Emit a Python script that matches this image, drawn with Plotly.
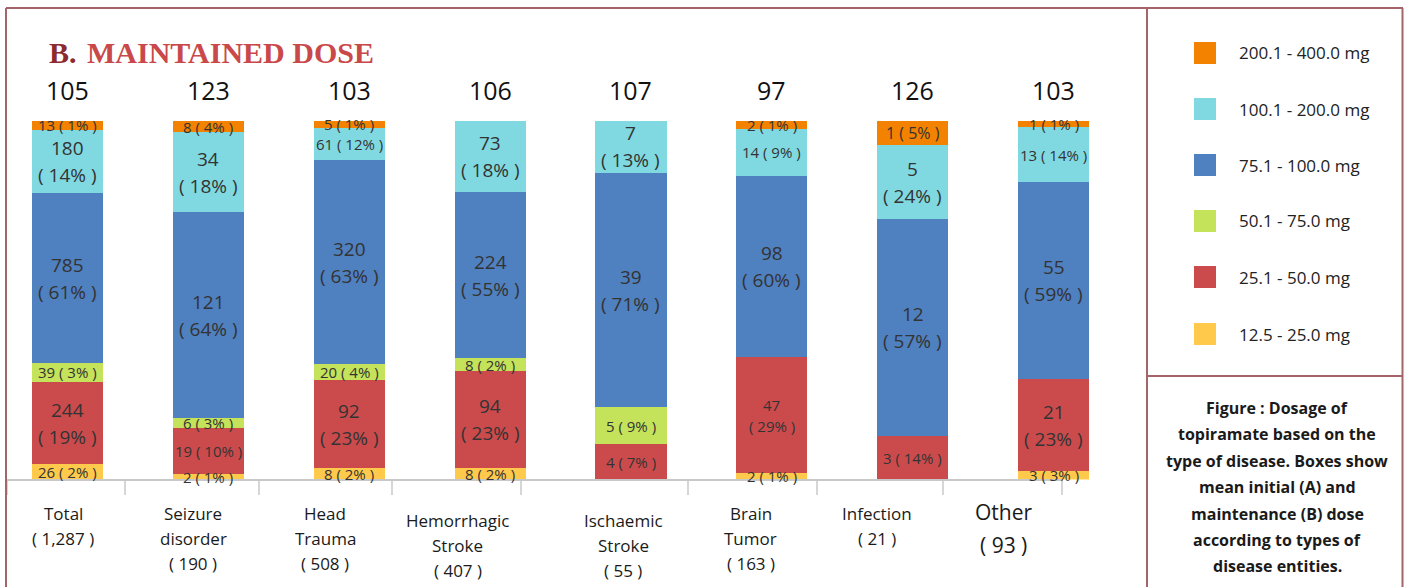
import plotly.graph_objects as go

# ---------------- data ----------------
categories = ["Total", "Seizure disorder", "Head Trauma", "Hemorrhagic Stroke",
              "Ischaemic Stroke", "Brain Tumor", "Infection", "Other"]
patients = [1287, 190, 508, 407, 55, 163, 21, 93]
mean_dose = [105, 123, 103, 106, 107, 97, 126, 103]

dose_groups = ["12.5 - 25.0 mg", "25.1 - 50.0 mg", "50.1 - 75.0 mg",
               "75.1 - 100.0 mg", "100.1 - 200.0 mg", "200.1 - 400.0 mg"]

# patient counts per dose group (stack order: bottom -> top)
count_12_25 = [26, 2, 8, 8, None, 2, None, 3]
count_25_50 = [244, 19, 92, 94, 4, 47, 3, 21]
count_50_75 = [39, 6, 20, 8, 5, None, None, None]
count_75_100 = [785, 121, 320, 224, 39, 98, 12, 55]
count_100_200 = [180, 34, 61, 73, 7, 14, 5, 13]
count_200_400 = [13, 8, 5, None, None, 2, 1, 1]

# printed percentages
pct_12_25 = [2, 1, 2, 2, None, 1, None, 3]
pct_25_50 = [19, 10, 23, 23, 7, 29, 14, 23]
pct_50_75 = [3, 3, 4, 2, 9, None, None, None]
pct_75_100 = [61, 64, 63, 55, 71, 60, 57, 59]
pct_100_200 = [14, 18, 12, 18, 13, 9, 24, 14]
pct_200_400 = [1, 4, 1, None, None, 1, 5, 1]

# drawn height of each segment (% of the bar)
share_12_25 = [4.2, 1.4, 3.2, 3.2, None, 1.7, None, 2.5]
share_25_50 = [23.0, 13.1, 24.5, 27.0, 9.8, 32.4, 12.1, 25.4]
share_50_75 = [5.3, 2.6, 4.5, 3.6, 10.3, None, None, None]
share_75_100 = [47.4, 57.5, 56.9, 46.4, 65.4, 50.6, 60.5, 55.0]
share_100_200 = [17.6, 22.3, 9.0, 19.8, 14.5, 13.1, 20.7, 15.4]
share_200_400 = [2.5, 3.1, 1.9, None, None, 2.2, 6.7, 1.7]

# ---------------- styles ----------------
colors = ["#ffc94c", "#cb4b4d", "#c4e25a", "#4f80bf", "#80d9e1", "#f38200"]
# label style per segment: L = large two-line, M = small two-line, S = small one-line
style_12_25 = ["S", "S", "S", "S", None, "S", None, "S"]
style_25_50 = ["L", "S", "L", "L", "S", "M", "S", "L"]
style_50_75 = ["S", "S", "S", "S", "S", None, None, None]
style_75_100 = ["L"] * 8
style_100_200 = ["L", "L", "S", "L", "L", "S", "L", "S"]
style_200_400 = ["S", "S", "S", None, None, "S", "T", "S"]

counts = [count_12_25, count_25_50, count_50_75, count_75_100, count_100_200, count_200_400]
pcts = [pct_12_25, pct_25_50, pct_50_75, pct_75_100, pct_100_200, pct_200_400]
shares = [share_12_25, share_25_50, share_50_75, share_75_100, share_100_200, share_200_400]
styles = [style_12_25, style_25_50, style_50_75, style_75_100, style_100_200, style_200_400]

W, H = 1408, 587
FONT = "Open Sans"
TXT = "#333333"
BORDER = "#a4646a"
AXIS_GRAY = "#c8c8c8"


def px(x):
    return x / W


def py(y):
    return 1 - y / H


fig = go.Figure()
for g in range(len(dose_groups)):
    fig.add_trace(go.Bar(
        x=categories, y=shares[g], name=dose_groups[g],
        marker=dict(color=colors[g], line=dict(width=0)),
        width=0.505, showlegend=False,
        customdata=[[c, p] for c, p in zip(counts[g], pcts[g])],
        hovertemplate="%{x}<br>" + dose_groups[g] + ": %{customdata[0]} (%{customdata[1]}%)<extra></extra>",
    ))

annotations = []
shapes = []

# segment labels
for i, cat in enumerate(categories):
    base = 0
    for g in range(len(dose_groups)):
        s = shares[g][i]
        if not s:
            continue
        mid = base + s / 2
        base += s
        c, p, st = counts[g][i], pcts[g][i], styles[g][i]
        if st == "L":
            for txt, sh in ((str(c), 13.5), (f"( {p}% )", -13.5)):
                annotations.append(dict(x=cat, y=mid, xref="x", yref="y", text=txt,
                                        showarrow=False, yshift=sh,
                                        font=dict(family=FONT, size=19, color=TXT)))
        elif st == "M":
            for txt, sh in ((str(c), 10.5), (f"( {p}% )", -10.5)):
                annotations.append(dict(x=cat, y=mid, xref="x", yref="y", text=txt,
                                        showarrow=False, yshift=sh,
                                        font=dict(family=FONT, size=15, color=TXT)))
        else:
            annotations.append(dict(x=cat, y=mid, xref="x", yref="y",
                                    text=f"{c} ( {p}% )", showarrow=False,
                                    font=dict(family=FONT, size=16 if st == "T" else 15, color=TXT)))
    # mean dose above bar
    annotations.append(dict(x=cat, y=100, xref="x", yref="y", text=str(mean_dose[i]),
                            showarrow=False, yshift=31, yanchor="middle",
                            font=dict(family=FONT, size=25, color="#111111")))

# category label row (table-like cells)
label_centers = [63, 193, 325, 458, 623, 751, 877, 1004]
label_top = [513, 513, 513, 520, 520, 513, 513, 512]
for i, cat in enumerate(categories):
    lines = cat.split(" ") + [f"( {patients[i]:,} )"]
    big = cat == "Other"
    size = 21 if big else 17
    step = 33 if big else 25
    for k, ln in enumerate(lines):
        annotations.append(dict(x=px(label_centers[i]), y=py(label_top[i] + k * step),
                                xref="paper", yref="paper", text=ln, showarrow=False,
                                xanchor="center", yanchor="middle",
                                font=dict(family=FONT, size=size, color="#1a1a1a")))

# baseline and cell dividers under the bars
shapes.append(dict(type="line", xref="paper", yref="paper", x0=px(7), x1=px(1062),
                   y0=py(480), y1=py(480), line=dict(color=AXIS_GRAY, width=2)))
for d in [7, 125, 259, 392, 521, 688, 817, 943, 1062]:
    shapes.append(dict(type="line", xref="paper", yref="paper", x0=px(d), x1=px(d),
                       y0=py(480), y1=py(495), line=dict(color=AXIS_GRAY, width=1.5)))

# title
annotations.append(dict(x=px(47), y=py(53), xref="paper", yref="paper", text="<b>B.</b>",
                        showarrow=False, xanchor="left", yanchor="middle",
                        font=dict(family="Liberation Serif", size=30, color="#8c2a2e")))
annotations.append(dict(x=px(85), y=py(53), xref="paper", yref="paper",
                        text="<b>MAINTAINED DOSE</b>", showarrow=False,
                        xanchor="left", yanchor="middle",
                        font=dict(family="Liberation Serif", size=30, color="#c9484a")))

# legend panel (top -> bottom: highest dose first)
legend_rows = [53, 109, 165, 221, 277, 334]
for r, g in enumerate(reversed(range(len(dose_groups)))):
    yc = legend_rows[r]
    shapes.append(dict(type="rect", xref="paper", yref="paper",
                       x0=px(1194), x1=px(1216), y0=py(yc - 11), y1=py(yc + 11),
                       fillcolor=colors[g], line=dict(width=0)))
    annotations.append(dict(x=px(1237), y=py(yc), xref="paper", yref="paper",
                            text=dose_groups[g], showarrow=False, xanchor="left",
                            yanchor="middle", font=dict(family=FONT, size=17, color="#222222")))

# caption
caption_lines = ["Figure : Dosage of", "topiramate based on the",
                 "type of disease. Boxes show", "mean initial (A) and",
                 "maintenance (B) dose", "according to types of", "disease entities."]
for k, ln in enumerate(caption_lines):
    annotations.append(dict(x=px(1277), y=py(408 + k * 26.4), xref="paper", yref="paper",
                            text=f"<b>{ln}</b>", showarrow=False, xanchor="center",
                            yanchor="middle", font=dict(family=FONT, size=16, color="#1a1a1a")))

# frame lines
for x0, y0, x1, y1 in [(6, 8, 6, 587), (6, 8, 1403, 8), (1147, 8, 1147, 587),
                       (1402.5, 8, 1402.5, 587), (1147, 376, 1403, 376)]:
    shapes.append(dict(type="line", xref="paper", yref="paper", x0=px(x0), x1=px(x1),
                       y0=py(y0), y1=py(y1), line=dict(color=BORDER, width=2)))

fig.update_layout(
    width=W, height=H, margin=dict(l=0, r=0, t=0, b=0),
    paper_bgcolor="white", plot_bgcolor="white",
    barmode="stack",
    xaxis=dict(domain=[px(7), px(1117)], range=[-0.429, 7.45], showticklabels=False,
               showgrid=False, zeroline=False, showline=False, ticks=""),
    yaxis=dict(domain=[py(479.5), py(121)], range=[0, 100], showticklabels=False,
               showgrid=False, zeroline=False, showline=False),
    annotations=annotations, shapes=shapes,
    font=dict(family=FONT),
)

fig.write_html("out.html", config={"displayModeBar": False},
               post_script="document.body.style.margin='0';")
